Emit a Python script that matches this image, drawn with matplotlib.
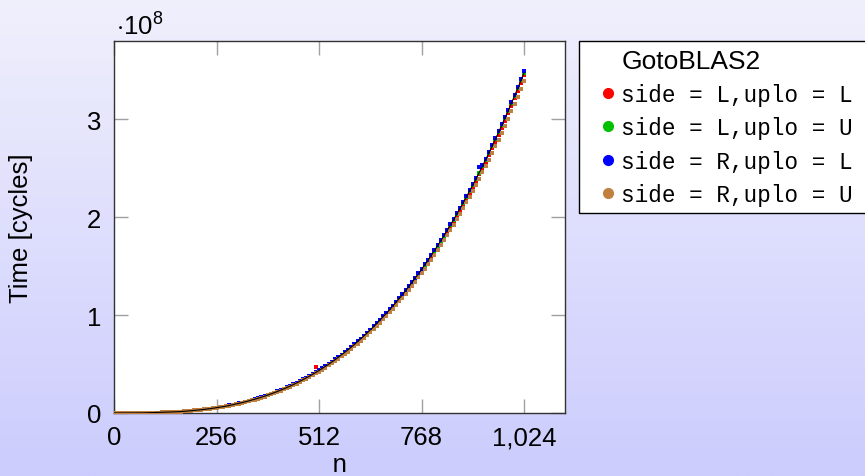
import numpy as np
import matplotlib.pyplot as plt
from matplotlib.lines import Line2D
from matplotlib.patches import Rectangle

# tamaños de matriz medidos
n = np.arange(0, 1025, 8)

# tiempos medidos, en millones de ciclos
t_LL = [0.0, 0.0, 0.0, 0.0, 0.0, 0.0, 0.0, 0.1, 0.1, 0.1,
        0.2, 0.2, 0.3, 0.4, 0.5, 0.6, 0.7, 0.8, 1.0, 1.1,
        1.3, 1.5, 1.8, 2.0, 2.3, 2.6, 2.9, 3.2, 3.6, 4.0,
        4.4, 4.9, 5.4, 5.9, 6.5, 7.0, 7.7, 8.3, 9.0, 9.7,
        10.5, 11.3, 12.2, 13.1, 14.0, 15.0, 16.0, 17.1, 18.2, 19.3,
        20.5, 21.8, 23.1, 24.5, 25.9, 27.3, 28.9, 30.4, 32.1, 33.8,
        35.5, 37.3, 39.2, 46.5, 43.1, 45.1, 47.3, 49.4, 51.7, 54.0,
        56.4, 58.8, 61.3, 63.9, 66.6, 69.3, 72.2, 75.0, 78.0, 81.0,
        84.2, 87.3, 90.6, 94.0, 97.4, 100.9, 104.5, 108.2, 112.0, 115.9,
        119.8, 123.9, 128.0, 132.2, 136.5, 140.9, 145.4, 150.0, 154.7, 159.5,
        164.4, 169.3, 174.4, 179.6, 184.9, 190.2, 195.7, 201.3, 207.0, 212.8,
        218.8, 224.7, 230.9, 237.1, 243.5, 250.0, 256.5, 263.2, 270.0, 277.0,
        284.0, 291.2, 298.4, 305.8, 313.4, 321.0, 328.8, 336.6, 344.6]

t_LU = [0.0, 0.0, 0.0, 0.0, 0.0, 0.0, 0.0, 0.1, 0.1, 0.1,
        0.2, 0.2, 0.3, 0.4, 0.5, 0.6, 0.7, 0.8, 1.0, 1.1,
        1.3, 1.5, 1.8, 2.0, 2.3, 2.6, 2.9, 3.2, 3.6, 4.0,
        4.4, 4.9, 5.4, 5.9, 6.5, 7.0, 7.7, 8.3, 9.0, 9.8,
        10.6, 11.4, 12.3, 13.2, 14.1, 15.1, 16.1, 17.2, 18.3, 19.5,
        20.7, 22.0, 23.3, 24.7, 26.1, 27.5, 29.1, 30.6, 32.4, 34.1,
        35.8, 37.6, 39.5, 41.4, 43.4, 45.5, 47.7, 49.8, 52.1, 54.4,
        56.9, 59.3, 61.8, 64.4, 67.1, 69.9, 72.8, 75.6, 78.6, 81.6,
        84.9, 88.0, 91.3, 94.8, 98.2, 101.7, 105.3, 109.1, 112.9, 116.8,
        120.8, 124.9, 129.0, 133.3, 137.6, 142.0, 146.6, 151.2, 155.9, 160.8,
        165.7, 170.7, 175.8, 181.0, 186.4, 191.7, 197.3, 202.9, 208.7, 214.5,
        220.6, 226.5, 232.7, 239.0, 245.4, 252.0, 258.6, 265.3, 272.2, 279.2,
        286.3, 293.5, 300.8, 308.2, 315.9, 323.6, 331.4, 339.3, 347.4]

t_RL = [0.0, 0.0, 0.0, 0.0, 0.0, 0.0, 0.0, 0.1, 0.1, 0.1,
        0.2, 0.2, 0.3, 0.4, 0.5, 0.6, 0.7, 0.8, 1.0, 1.1,
        1.3, 1.5, 1.8, 2.0, 2.3, 2.6, 2.9, 3.2, 3.6, 4.0,
        4.4, 4.9, 5.4, 5.9, 6.5, 7.0, 7.7, 8.3, 9.0, 9.8,
        10.6, 11.5, 12.3, 13.2, 14.2, 15.2, 16.2, 17.3, 18.4, 19.6,
        20.8, 22.1, 23.4, 24.8, 26.2, 27.7, 29.2, 30.8, 32.5, 34.2,
        35.9, 37.7, 39.6, 41.6, 43.6, 45.7, 47.8, 50.0, 52.3, 54.6,
        57.1, 59.5, 62.1, 64.7, 67.4, 70.2, 73.0, 75.9, 78.9, 82.0,
        85.2, 88.4, 91.7, 95.1, 98.6, 102.1, 105.8, 109.5, 113.3, 117.2,
        121.2, 125.3, 129.5, 133.8, 138.1, 142.6, 147.2, 151.8, 156.5, 161.4,
        166.3, 171.4, 176.5, 181.7, 187.1, 192.5, 198.1, 203.7, 209.5, 215.4,
        221.4, 227.4, 233.7, 240.0, 251.0, 253.0, 259.6, 266.4, 273.2, 280.3,
        287.4, 294.7, 302.0, 309.5, 317.1, 324.9, 332.7, 340.6, 348.7]

t_RU = [0.0, 0.0, 0.0, 0.0, 0.0, 0.0, 0.0, 0.1, 0.1, 0.1,
        0.2, 0.2, 0.3, 0.4, 0.5, 0.6, 0.7, 0.8, 1.0, 1.1,
        1.3, 1.5, 1.8, 2.0, 2.3, 2.6, 2.9, 3.2, 3.6, 4.0,
        4.4, 4.8, 5.3, 5.8, 6.3, 6.9, 7.5, 8.2, 8.9, 9.5,
        10.3, 11.1, 12.0, 12.9, 13.7, 14.7, 15.7, 16.8, 17.9, 19.0,
        20.1, 21.4, 22.7, 24.1, 25.4, 26.8, 28.4, 29.9, 31.5, 33.2,
        34.9, 36.6, 38.5, 40.4, 42.3, 44.3, 46.4, 48.5, 50.8, 53.0,
        55.4, 57.7, 60.2, 62.7, 65.4, 68.1, 70.9, 73.7, 76.6, 79.5,
        82.7, 85.7, 89.0, 92.3, 95.7, 99.1, 102.6, 106.3, 110.0, 113.8,
        117.6, 121.7, 125.7, 129.8, 134.0, 138.4, 142.8, 147.3, 151.9, 156.6,
        161.4, 166.3, 171.3, 176.4, 181.6, 186.8, 192.2, 197.7, 203.3, 209.0,
        214.9, 220.7, 226.7, 232.8, 239.1, 245.5, 251.9, 258.5, 265.1, 272.0,
        278.9, 286.0, 293.0, 300.3, 307.7, 315.2, 322.9, 330.5, 338.4]

series = [t_LL, t_LU, t_RL, t_RU]
etiquetas = ['side = L,uplo = L', 'side = L,uplo = U',
             'side = R,uplo = L', 'side = R,uplo = U']
colores = ['#ff0000', '#00c000', '#0000ff', '#bf8040']

xticks = [0, 256, 512, 768, 1024]
xticklabels = ['0', '256', '512', '768', '1,024']
yticks = [0, 100, 200, 300]
yticklabels = ['0', '1', '2', '3']

sans = ['Liberation Sans', 'DejaVu Sans']
mono = ['Liberation Mono', 'DejaVu Sans Mono']
plt.rcParams['font.family'] = sans
plt.rcParams['mathtext.fontset'] = 'custom'
plt.rcParams['mathtext.rm'] = 'Liberation Sans'

fig = plt.figure(figsize=(8.65, 4.77), dpi=100)

# fondo degradado
fondo = fig.add_axes([0, 0, 1, 1], zorder=-10)
grad = np.linspace(0, 1, 256)[:, None]
top = np.array([0.94, 0.94, 0.99])
bot = np.array([0.80, 0.80, 0.995])
img = top[None, None, :] * (1 - grad[:, :, None]) + bot[None, None, :] * grad[:, :, None]
fondo.imshow(img, aspect='auto', extent=[0, 1, 0, 1])
fondo.axis('off')

ax = fig.add_axes([114 / 865, 1 - 414 / 477, 451 / 865, 372 / 477])
ax.set_facecolor('white')

for t, c in zip(series, colores):
    ax.plot(n, t, 's', color=c, ms=2.4, mew=0, zorder=3)
ax.plot(n, t_LU, '-', color='black', lw=0.8, zorder=4)

ax.set_xlim(0, 1126)
ax.set_ylim(0, 379.6)
ax.set_xticks(xticks)
ax.set_xticklabels(xticklabels)
ax.set_yticks(yticks)
ax.set_yticklabels(yticklabels)
ax.tick_params(direction='in', length=10, width=1, color='#a0a0a0',
               labelsize=18.5, top=True, right=True, pad=9)
for s in ax.spines.values():
    s.set_color('#333333')
    s.set_linewidth(1)

ax.set_xlabel('n', family=mono, fontsize=18.5, labelpad=2)
ax.set_ylabel('Time [cycles]', fontsize=18.5, labelpad=39)
fig.text(116 / 865, 1 - 36 / 477, r'$\cdot\mathregular{10^8}$', fontsize=18.5)

# recuadro de la leyenda
fig.patches.append(Rectangle((579 / 865, 1 - 214 / 477), 0.4, 172 / 477,
                             transform=fig.transFigure, facecolor='white',
                             edgecolor='black', lw=1, zorder=1))

handles = [Line2D([], [], linestyle='none')]
handles += [Line2D([], [], linestyle='none', marker='o', color=c, ms=7)
            for c in colores]
leg = fig.legend(handles, ['GotoBLAS2'] + etiquetas, loc='upper left',
                 bbox_to_anchor=(601 / 865, 1 - 50 / 477), borderaxespad=0,
                 prop={'family': mono, 'size': 16.3}, frameon=False,
                 handlelength=0.6, handletextpad=0.3, labelspacing=0.45,
                 borderpad=0)
leg.set_zorder(2)
leg.get_texts()[0].set_fontfamily(sans)
leg.get_texts()[0].set_fontsize(19)

fig.savefig('out.png', dpi=100)
